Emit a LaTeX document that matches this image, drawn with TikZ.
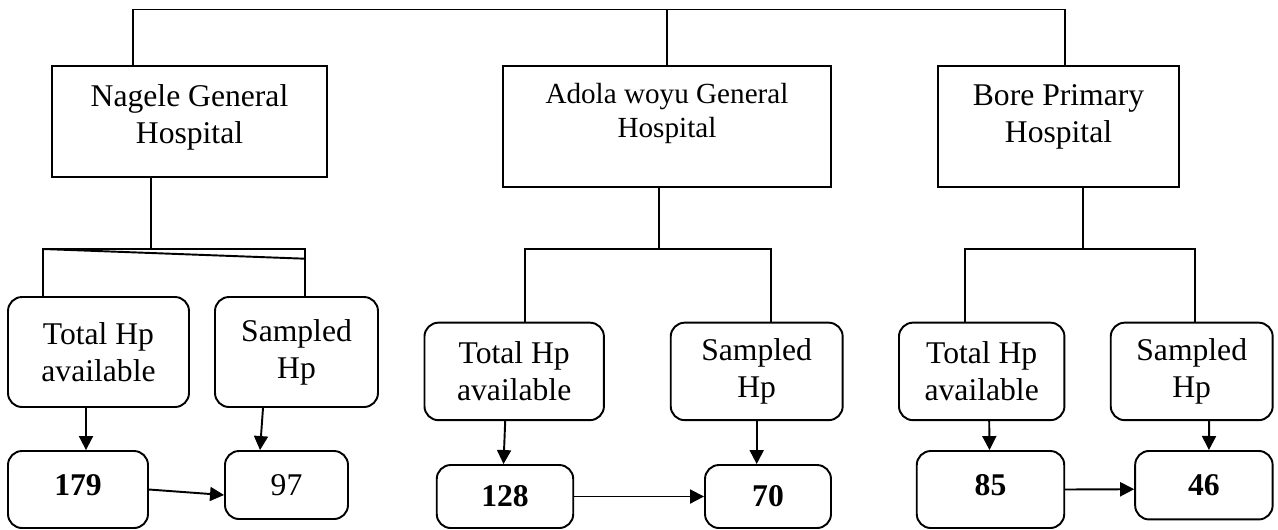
\documentclass[tikz,border=0pt]{standalone}
\usepackage{fontspec}
\setmainfont{Liberation Serif}
\usetikzlibrary{arrows.meta}
\tikzset{
    hosp/.style={draw, line width=1.1pt, inner sep=0pt},
    hosptext/.style={align=center, inner sep=0pt, font=\fontsize{18}{21}\selectfont},
    hpbox/.style={draw, line width=1.1pt, rounded corners=0.28cm, align=center, inner sep=0pt, font=\fontsize{18}{21}\selectfont},
    numbox/.style={hpbox, font=\fontsize{18}{21}\selectfont\bfseries},
    link/.style={line width=1.1pt},
    arr/.style={line width=1.1pt, -{Triangle[length=0.28cm,width=0.28cm]}}
}
\begin{document}
\begin{tikzpicture}[x=0.02cm,y=-0.02cm]
    \useasboundingbox (0,0) rectangle (1278,529);
    % hospitals
    \node[hosp,minimum width=5.5cm,minimum height=2.22cm] (nagele) at (189.5,121.5) {};
    \node[hosptext] (nageletxt) at (189.5,117) {Nagele General\\Hospital};
    \node[hosp,minimum width=6.56cm,minimum height=2.42cm] (adola) at (667,126.5) {};
    \node[hosptext,font=\fontsize{16.6}{19.4}\selectfont] (adolatxt) at (667,113.5) {Adola woyu General\\Hospital};
    \node[hosp,minimum width=4.82cm,minimum height=2.42cm] (bore) at (1058.5,126.5) {};
    \node[hosptext] (boretxt) at (1058.5,116.7) {Bore Primary\\Hospital};

    % top bar
    \coordinate (barL) at (133,9.5);
    \coordinate (barR) at (1065,9.5);
    \draw[link] (nagele.north -| barL) -- (barL) -- (barR) -- (bore.north -| barR);
    \draw[link] (adola.north) -- (adola.north |- barL);

    % Hp boxes
    \node[hpbox,minimum width=3.62cm,minimum height=2.2cm] (ntot) at (98.5,352) {Total Hp\\available};
    \node[hpbox,minimum width=3.26cm,minimum height=2.2cm] (nsam) at (296.5,352) {Sampled\\Hp};
    \node[hpbox,minimum width=3.59cm,minimum height=1.95cm] (atot) at (514.2,371.4) {Total Hp\\available};
    \node[hpbox,minimum width=3.44cm,minimum height=1.95cm] (asam) at (756.7,371.4) {Sampled\\Hp};
    \node[hpbox,minimum width=3.31cm,minimum height=1.95cm] (btot) at (981.7,371.4) {Total Hp\\available};
    \node[hpbox,minimum width=3.24cm,minimum height=1.95cm] (bsam) at (1191.7,371.4) {Sampled\\Hp};

    % numbers
    \node[numbox,minimum width=2.8cm,minimum height=1.54cm,text depth=5pt] (n179) at (78,489.5) {179};
    \node[hpbox,minimum width=2.46cm,minimum height=1.36cm] (n97) at (286.5,485) {97};
    \node[numbox,minimum width=2.73cm,minimum height=1.26cm] (a128) at (505,496.5) {128};
    \node[numbox,minimum width=2.52cm,minimum height=1.26cm] (a70) at (768,496.5) {70};
    \node[numbox,minimum width=2.95cm,minimum height=1.54cm,text depth=5pt] (b85) at (990.5,489.5) {85};
    \node[numbox,minimum width=2.75cm,minimum height=1.37cm] (b46) at (1203.9,485.2) {46};

    % Nagele branch
    \coordinate (nagsplit) at (151,249);
    \coordinate (nagL) at (43,249);
    \coordinate (nagR) at (305,249);
    \coordinate (nagkink) at (305,258.7);
    \draw[link] (nagele.south -| nagsplit) -- (nagsplit);
    \draw[link] (ntot.north -| nagL) -- (nagL) -- (nagR) -- (nsam.north -| nagR);
    \draw[link] (nagL) -- (nagkink);

    % Adola branch
    \coordinate (adsplit) at (658.7,249);
    \coordinate (adL) at (525,249);
    \coordinate (adR) at (770.7,249);
    \draw[link] (adola.south -| adsplit) -- (adsplit);
    \draw[link] (atot.north -| adL) -- (adL) -- (adR) -- (asam.north -| adR);

    % Bore branch
    \coordinate (bosplit) at (1082.7,249);
    \coordinate (boL) at (965,249);
    \coordinate (boR) at (1195,249);
    \draw[link] (bore.south -| bosplit) -- (bosplit);
    \draw[link] (btot.north -| boL) -- (boL) -- (boR) -- (bsam.north -| boR);

    % arrows
    \draw[arr] ([xshift=-0.25cm]ntot.south) -- ([xshift=0.16cm]n179.north);
    \draw[arr] ([xshift=-0.67cm]nsam.south) -- ([xshift=-0.53cm]n97.north);
    \draw[arr] (n179.east) -- ([yshift=-0.2cm]n97.west);
    \draw[arr] ([xshift=-0.18cm]atot.south) -- ([xshift=-0.03cm]a128.north);
    \draw[arr] (asam.south) -- (asam.south |- a70.north);
    \draw[arr] (a128.east) -- (a70.west);
    \draw[arr] ([xshift=0.15cm]btot.south) -- ([xshift=-0.02cm]b85.north);
    \draw[arr] ([xshift=0.35cm]bsam.south) -- ([xshift=0.1cm]b46.north);
    \draw[arr] (b85.east) -- ([yshift=-0.08cm]b46.west);
\end{tikzpicture}
\end{document}
